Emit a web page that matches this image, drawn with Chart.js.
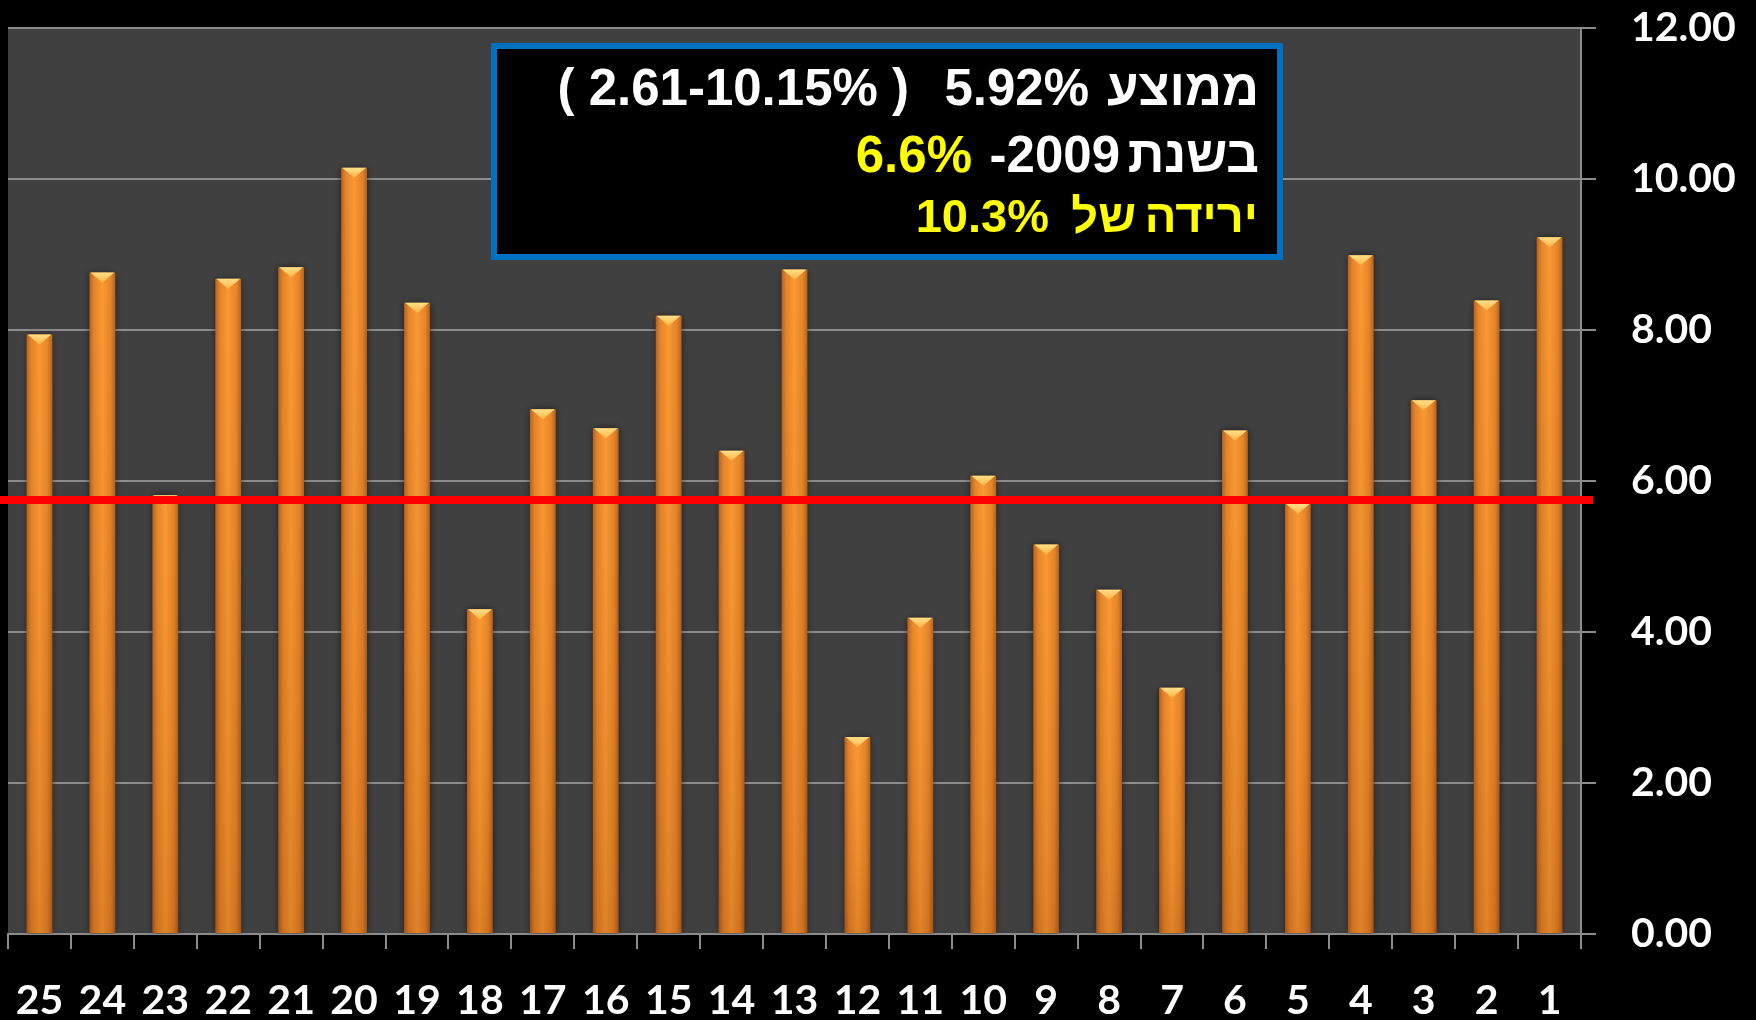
<!DOCTYPE html>
<html>
<head>
<meta charset="utf-8">
<script src="https://cdn.jsdelivr.net/npm/chart.js@4/dist/chart.umd.min.js"></script>
<style>
  html, body { margin: 0; padding: 0; background: #000; overflow: hidden; }
  #wrap { position: relative; width: 1756px; height: 1020px; }
</style>
</head>
<body>
<div id="wrap"><canvas id="chart"></canvas></div>
<script>
// categories 1..25 (drawn reversed, 25 on the left)
const categories = ['1', '2', '3', '4', '5', '6', '7', '8', '9', '10', '11', '12', '13',
                    '14', '15', '16', '17', '18', '19', '20', '21', '22', '23', '24', '25'];
const values = [9.23, 8.39, 7.07, 8.99, 5.70, 6.67, 3.26, 4.56, 5.16, 6.07, 4.19, 2.61, 8.80,
                6.40, 8.19, 6.70, 6.95, 4.30, 8.36, 10.15, 8.83, 8.68, 5.81, 8.76, 7.94];
const yTicks = [0, 2, 4, 6, 8, 10, 12];
const avgLine = 5.75;

// text in the box, each line split in pieces placed from the right
const boxLines = [
  { size: 51, parts: [['ממוצע', '#fff', 1259], ['5.92%', '#fff', 1089], ['( 2.61-10.15% )', '#fff', 909]], base: 105 },
  { size: 51, parts: [['בשנת', '#fff', 1259], ['-2009', '#fff', 1120], ['6.6%', '#ffff00', 972]], base: 172 },
  { size: 47, parts: [['ירידה', '#ffff00', 1258], ['של', '#ffff00', 1136], ['10.3%', '#ffff00', 1049]], base: 232 }
];

const BAR_PCT = 0.41;

function barFill(context) {
  const chart = context.chart;
  const xs = chart.scales.x;
  if (!chart.chartArea || !xs) return '#f28b2c';
  const x = xs.getPixelForValue(context.dataIndex);
  const half = (xs.width / categories.length) * BAR_PCT / 2;
  const g = chart.ctx.createLinearGradient(x - half, 0, x + half, 0);
  g.addColorStop(0, '#b05a18');
  g.addColorStop(0.18, '#e28026');
  g.addColorStop(0.5, '#fa952f');
  g.addColorStop(0.82, '#e28026');
  g.addColorStop(1, '#b05a18');
  return g;
}

const plotBg = {
  id: 'plotBg',
  beforeDraw(chart) {
    const { ctx, chartArea: a } = chart;
    ctx.save();
    ctx.fillStyle = '#404040';
    ctx.fillRect(a.left, a.top, a.right - a.left, a.bottom - a.top);
    ctx.restore();
  },
  beforeDatasetsDraw(chart) {
    const ctx = chart.ctx;
    ctx.save();
    ctx.shadowColor = 'rgba(0,0,0,0.55)';
    ctx.shadowBlur = 7;
  },
  afterDatasetsDraw(chart) {
    const ctx = chart.ctx;
    ctx.restore();
    const meta = chart.getDatasetMeta(0);
    const bottom = chart.scales.y.getPixelForValue(0);
    meta.data.forEach(bar => {
      const l = bar.x - bar.width / 2, r = bar.x + bar.width / 2;
      // a little darker toward the bottom
      const v = ctx.createLinearGradient(0, bar.y, 0, bottom);
      v.addColorStop(0, 'rgba(255,190,90,0.08)');
      v.addColorStop(1, 'rgba(90,35,0,0.16)');
      ctx.fillStyle = v;
      ctx.fillRect(l, bar.y, r - l, bottom - bar.y);
      // bevel highlight on top
      const t = ctx.createLinearGradient(0, bar.y, 0, bar.y + 10);
      t.addColorStop(0, '#ffe08a');
      t.addColorStop(1, '#ffb445');
      ctx.fillStyle = t;
      ctx.beginPath();
      ctx.moveTo(l + 1, bar.y);
      ctx.lineTo(r - 1, bar.y);
      ctx.lineTo(bar.x, bar.y + 10);
      ctx.closePath();
      ctx.fill();
    });

    // average line
    const yy = chart.scales.y.getPixelForValue(avgLine);
    ctx.save();
    ctx.strokeStyle = '#ff0000';
    ctx.lineWidth = 8;
    ctx.beginPath();
    ctx.moveTo(0, yy);
    ctx.lineTo(chart.chartArea.right + 12, yy);
    ctx.stroke();
    ctx.restore();

    // text box
    ctx.save();
    ctx.fillStyle = '#000';
    ctx.fillRect(494, 46, 786, 211);
    ctx.strokeStyle = '#0070c0';
    ctx.lineWidth = 6;
    ctx.strokeRect(494, 46, 786, 211);
    ctx.direction = 'ltr';
    ctx.textAlign = 'right';
    ctx.textBaseline = 'alphabetic';
    boxLines.forEach(line => {
      ctx.font = 'bold ' + line.size + 'px "Liberation Sans", Arial, "DejaVu Sans", sans-serif';
      line.parts.forEach(([txt, col, xr]) => {
        ctx.fillStyle = col;
        ctx.fillText(txt, xr, line.base);
      });
    });
    ctx.restore();
  }
};

const tickFont = { family: 'Lato, "DejaVu Sans", sans-serif', size: 41, weight: 'bold' };

function build() {
  new Chart(document.getElementById('chart'), {
    type: 'bar',
    data: {
      labels: categories,
      datasets: [{
        data: values,
        backgroundColor: barFill,
        borderWidth: 0,
        categoryPercentage: 1,
        barPercentage: BAR_PCT
      }]
    },
    options: {
      responsive: true,
      maintainAspectRatio: false,
      animation: false,
      layout: { padding: { left: 8, top: 28, right: 0, bottom: 0 } },
      plugins: { legend: { display: false }, tooltip: { enabled: false } },
      scales: {
        x: {
          reverse: true,
          grid: { display: true, drawOnChartArea: false, drawTicks: true, tickLength: 15, color: '#8c8c8c', lineWidth: 2 },
          border: { display: true, color: '#8c8c8c', width: 2 },
          ticks: { color: '#ffffff', font: tickFont, padding: 27, maxRotation: 0, autoSkip: false },
          afterFit(scale) { scale.height = 86; scale.paddingLeft = 0; scale.paddingRight = 0; }
        },
        y: {
          position: 'right',
          min: 0,
          max: 12,
          afterBuildTicks(scale) { scale.ticks = yTicks.map(v => ({ value: v })); },
          grid: { color: '#8c8c8c', lineWidth: 2, tickLength: 15 },
          border: { display: true, color: '#8c8c8c', width: 2 },
          ticks: { color: '#ffffff', font: tickFont, padding: 35, callback: v => Number(v).toFixed(2) },
          afterFit(scale) { scale.width = 175; scale.paddingTop = 0; scale.paddingBottom = 0; }
        }
      }
    },
    plugins: [plotBg]
  });
}

if (document.fonts && document.fonts.load) {
  Promise.all([
    document.fonts.load('bold 41px Lato'),
    document.fonts.load('bold 50px "Liberation Sans"')
  ]).then(build, build);
} else {
  build();
}
</script>
</body>
</html>
